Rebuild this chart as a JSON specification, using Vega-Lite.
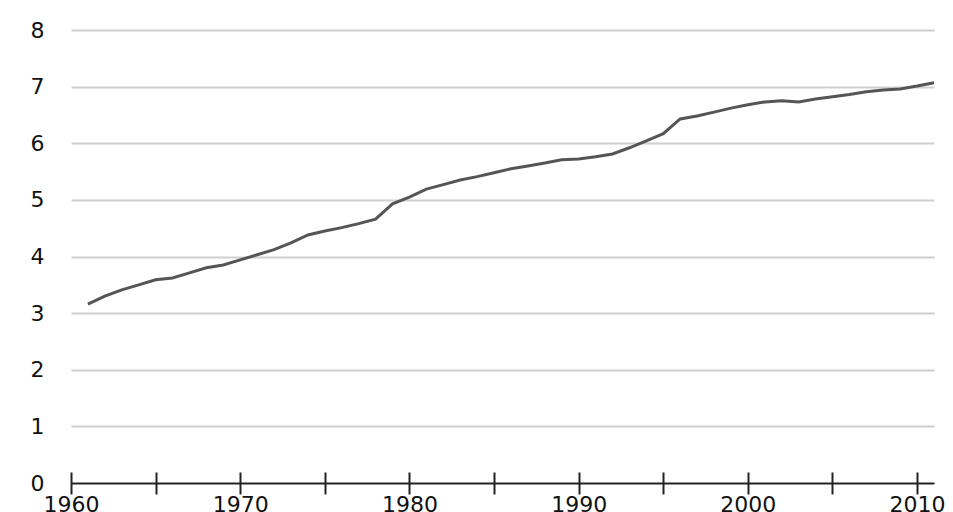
{
  "$schema": "https://vega.github.io/schema/vega-lite/v6.json",
  "autosize": {"type": "none"},
  "padding": {"left": 71, "top": 30, "right": 19, "bottom": 29},
  "width": 863,
  "height": 453,
  "background": "white",
  "config": {"view": {"stroke": null}, "font": "DejaVu Sans"},
  "data": {"values": [
    {"year": 1961, "value": 3.16},
    {"year": 1962, "value": 3.30},
    {"year": 1963, "value": 3.41},
    {"year": 1964, "value": 3.50},
    {"year": 1965, "value": 3.59},
    {"year": 1966, "value": 3.62},
    {"year": 1967, "value": 3.71},
    {"year": 1968, "value": 3.80},
    {"year": 1969, "value": 3.85},
    {"year": 1970, "value": 3.94},
    {"year": 1971, "value": 4.03},
    {"year": 1972, "value": 4.12},
    {"year": 1973, "value": 4.24},
    {"year": 1974, "value": 4.38},
    {"year": 1975, "value": 4.45},
    {"year": 1976, "value": 4.51},
    {"year": 1977, "value": 4.58},
    {"year": 1978, "value": 4.66},
    {"year": 1979, "value": 4.93},
    {"year": 1980, "value": 5.05},
    {"year": 1981, "value": 5.19},
    {"year": 1982, "value": 5.27},
    {"year": 1983, "value": 5.35},
    {"year": 1984, "value": 5.41},
    {"year": 1985, "value": 5.48},
    {"year": 1986, "value": 5.55},
    {"year": 1987, "value": 5.60},
    {"year": 1988, "value": 5.65},
    {"year": 1989, "value": 5.71},
    {"year": 1990, "value": 5.72},
    {"year": 1991, "value": 5.76},
    {"year": 1992, "value": 5.81},
    {"year": 1993, "value": 5.92},
    {"year": 1994, "value": 6.04},
    {"year": 1995, "value": 6.17},
    {"year": 1996, "value": 6.43},
    {"year": 1997, "value": 6.48},
    {"year": 1998, "value": 6.55},
    {"year": 1999, "value": 6.62},
    {"year": 2000, "value": 6.68},
    {"year": 2001, "value": 6.73},
    {"year": 2002, "value": 6.75},
    {"year": 2003, "value": 6.73},
    {"year": 2004, "value": 6.78},
    {"year": 2005, "value": 6.82},
    {"year": 2006, "value": 6.86},
    {"year": 2007, "value": 6.91},
    {"year": 2008, "value": 6.94},
    {"year": 2009, "value": 6.96},
    {"year": 2010, "value": 7.01},
    {"year": 2011, "value": 7.07}
  ]},
  "mark": {"type": "line", "color": "#555555", "strokeWidth": 3, "clip": false},
  "encoding": {
    "x": {
      "field": "year", "type": "quantitative",
      "scale": {"domain": [1960, 2011], "nice": false, "zero": false},
      "axis": {
        "title": null,
        "values": [1960, 1965, 1970, 1975, 1980, 1985, 1990, 1995, 2000, 2005, 2010],
        "format": "d",
        "labelExpr": "datum.value % 10 === 0 ? datum.label : ''",
        "grid": false,
        "domain": false,
        "offset": -11,
        "tickSize": 22,
        "tickWidth": 2,
        "tickColor": "#222222",
        "labelFontSize": 22,
        "labelColor": "#111111",
        "labelPadding": 0,
        "labelFlush": false,
        "labelOverlap": false
      }
    },
    "y": {
      "field": "value", "type": "quantitative",
      "scale": {"domain": [0, 8], "nice": false, "zero": false},
      "axis": {
        "title": null,
        "values": [0, 1, 2, 3, 4, 5, 6, 7, 8],
        "grid": true,
        "gridColor": {"condition": {"test": "datum.value === 0", "value": "#222222"}, "value": "#d0d0d0"},
        "gridWidth": 2,
        "domain": false,
        "ticks": false,
        "labelFontSize": 22,
        "labelColor": "#111111",
        "labelPadding": 27,
        "labelFlush": false,
        "labelOverlap": false
      }
    }
  }
}
